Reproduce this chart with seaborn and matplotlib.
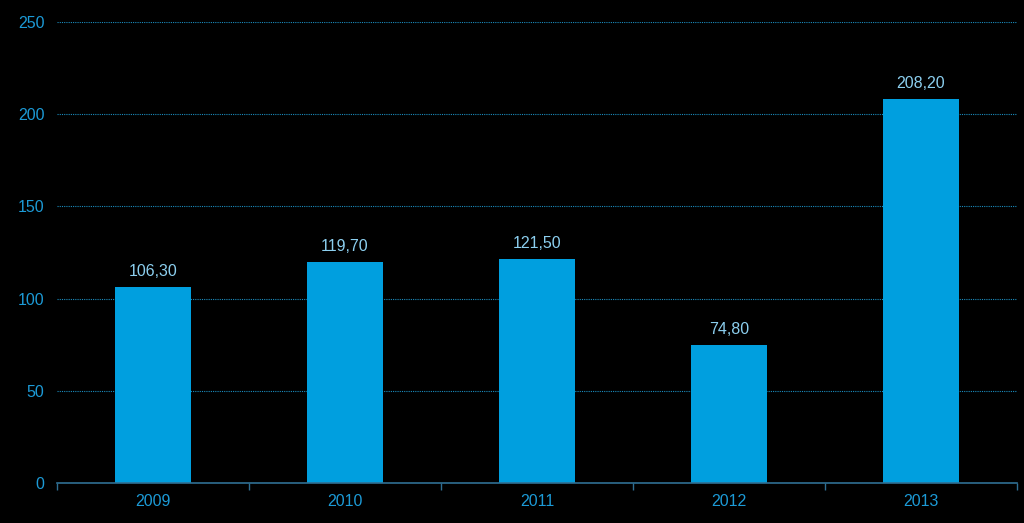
import matplotlib
matplotlib.use("Agg")
import matplotlib.pyplot as plt
import seaborn as sns
import pandas as pd
import numpy as np

years = ["2009", "2010", "2011", "2012", "2013"]
values = [106.30, 119.70, 121.50, 74.80, 208.20]
yticks = [0, 50, 100, 150, 200, 250]

sns.set_theme(style="dark")
plt.rcParams['font.family'] = ['Liberation Sans', 'DejaVu Sans']

BG = "#000000"
BAR = "#009FDF"
TICK = "#1C9AD6"
LABEL = "#8CCFEF"
GRID = "#1B8DBF"
SPINE = "#2F6F93"

df = pd.DataFrame({"year": years, "value": values})

fig = plt.figure(figsize=(10.24, 5.23), dpi=100, facecolor=BG)
ax = fig.add_axes([57/1024, 40/523, 960/1024, 461/523])
ax.set_facecolor(BG)

sns.barplot(data=df, x="year", y="value", color=BAR, width=0.4, ax=ax,
            saturation=1, zorder=3, linewidth=0, edgecolor=BAR)

ax.set_ylim(0, 250)
ax.set_xlim(-0.5, 4.5)
ax.set_yticks(yticks)
ax.set_yticklabels([str(t) for t in yticks])
ax.yaxis.grid(True, color=GRID, linestyle=(0, (1, 1)), linewidth=0.8, zorder=0)
ax.xaxis.grid(False)
for s in ["top", "right", "left"]:
    ax.spines[s].set_visible(False)
ax.spines["bottom"].set_color(SPINE)
ax.spines["bottom"].set_linewidth(1.2)
ax.spines["bottom"].set_zorder(4)

ax.set_xticks(np.arange(-0.5, 5, 1.0), minor=True)
ax.tick_params(axis="x", which="minor", length=5, color=SPINE, width=1, direction="out", bottom=True)
ax.tick_params(axis="x", which="major", length=0, pad=8, labelcolor=TICK, labelsize=11.5)
ax.tick_params(axis="y", length=0, pad=9, labelcolor=TICK, labelsize=11.5)
ax.set_xlabel("")
ax.set_ylabel("")

labels = [f"{v:.2f}".replace(".", ",") for v in values]
ax.bar_label(ax.containers[0], labels=labels, padding=6, color=LABEL, fontsize=11.5)

fig.savefig("out.png", dpi=100, facecolor=BG)
